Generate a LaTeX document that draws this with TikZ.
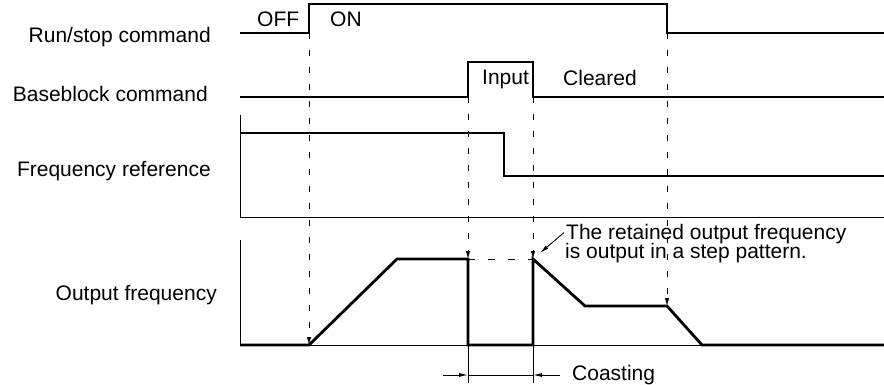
\documentclass[tikz,border=0pt]{standalone}
\usepackage{fontspec}
\setmainfont{Liberation Sans}
\usetikzlibrary{arrows.meta}
\begin{document}
\begin{tikzpicture}[x=1pt,y=-1pt,
  sig/.style={line width=2.8pt, line join=miter, line cap=butt},
  axis/.style={line width=0.9pt},
  guide/.style={line width=0.9pt, dash pattern=on 6pt off 11pt, -{Latex[length=8pt,width=4.5pt]}},
  hguide/.style={line width=0.9pt, dash pattern=on 7pt off 13pt},
  dimarrow/.style={line width=0.9pt, -{Latex[length=9pt,width=4pt]}},
  lbl/.style={font=\fontsize{21}{21}\selectfont, inner sep=0pt},
]
\useasboundingbox (0,0) rectangle (884,385);

% left labels
\node[lbl, anchor=base east] (lrun)  at (211,43)  {Run/stop command};
\node[lbl, anchor=base east] (lbb)   at (208,102) {Baseblock command};
\node[lbl, anchor=base east] (lfref) at (211,176) {Frequency reference};
\node[lbl, anchor=base east] (lout)  at (217,300) {Output frequency};

% key coordinates
\coordinate (r0) at (240,33);  \coordinate (r1) at (309,33);
\coordinate (r2) at (667,33);
\coordinate (b1) at (468,97);  \coordinate (b2) at (533,97);
\coordinate (o1) at (309,345); \coordinate (o2) at (468,259);
\coordinate (o3) at (533,259); \coordinate (o4) at (667,306);

% Run/stop command
\draw[sig] (r0) -- (r1) -- (309,4) -- (667,4) -- (r2) -- (884,33);
\node[lbl, anchor=base west] (off) at (257,27) {OFF};
\node[lbl, anchor=base west] (on)  at (330,27) {ON};

% Baseblock command
\draw[sig] (240,97) -- (b1) -- (468,62) -- (533,62) -- (b2) -- (884,97);
\node[lbl, anchor=base west] (inp) at (482,85) {Input};
\node[lbl, anchor=base west] (clr) at (563,86) {Cleared};

% Frequency reference
\draw[axis] (240,115) -- (240,217) -- (884,217);
\draw[sig] (240,133) -- (504,133) -- (504,176) -- (884,176);

% Output frequency
\draw[axis] (240,240) -- (240,345) -- (884,345);
\draw[sig] (240,345) -- (o1) -- (397,259) -- (o2) -- (468,345) -- (533,345)
  -- (o3) -- (585,306) -- (o4) -- (702,345) -- (884,345);

% dashed guides
\draw[guide] (r1) -- (o1);
\draw[guide] (b1) -- (o2);
\draw[guide] (b2) -- (o3);
\draw[guide] (r2) -- (o4);
\draw[hguide] (o2) -- (o3);

% annotation
\node[lbl, anchor=base west] (note1) at (566,239) {The retained output frequency};
\node[lbl, anchor=base west] (note2) at (565,258) {is output in a step pattern.};
\coordinate (ltip) at (540,253);
\draw[dimarrow] (note1.west) ++(-2,-1) coordinate (lstart) -- (ltip);

% coasting
\coordinate (c1) at (468,375); \coordinate (c2) at (533,375);
\draw[axis] (468,345) -- (468,383);
\draw[axis] (533,345) -- (533,383);
\draw[axis] (c1) -- (c2);
\coordinate (ca) at (443,375); \coordinate (cb) at (560,375);
\draw[dimarrow] (ca) -- (c1);
\draw[dimarrow] (cb) -- (c2);
\node[lbl, anchor=base west] (coast) at (572,380) {Coasting};
\end{tikzpicture}
\end{document}
